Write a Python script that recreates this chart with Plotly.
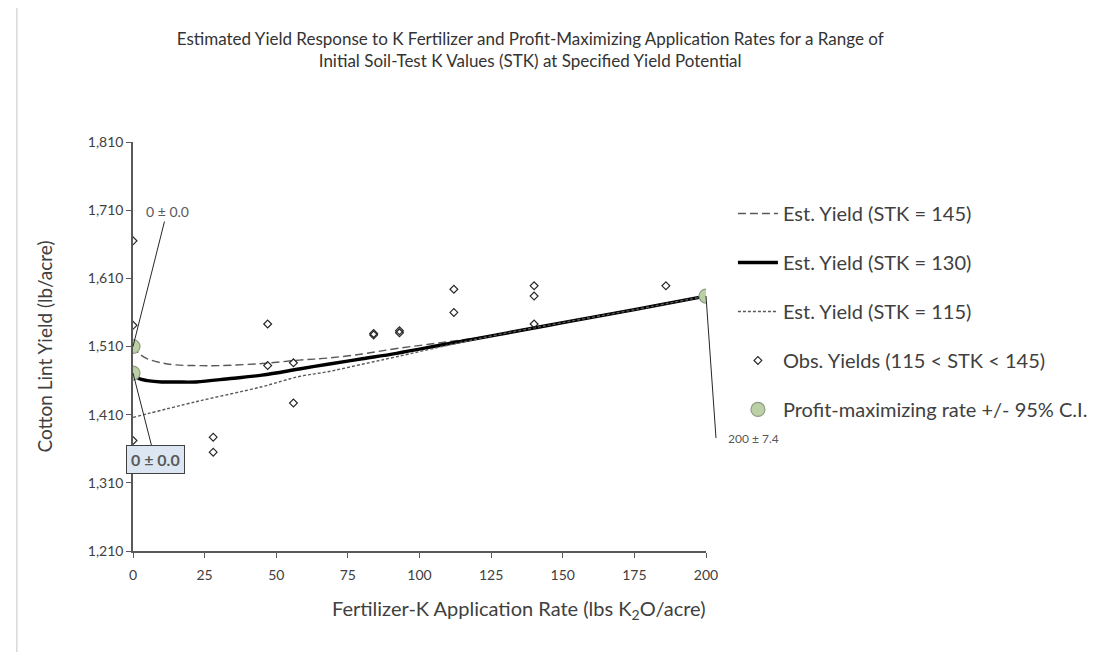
import plotly.graph_objects as go

# ---------------- data ----------------
curve_x_145 = [0, 2, 5, 10, 15, 22, 30, 45, 58, 68, 80, 92, 110, 127, 150, 175, 200]
curve_y_145 = [1510, 1500, 1492, 1486, 1483, 1482, 1482, 1485, 1490, 1493, 1499, 1507, 1517, 1527, 1545, 1564, 1584]

curve_x_130 = [0, 2, 5, 10, 15, 22, 34, 45, 58, 68, 80, 92, 110, 127, 150, 175, 200]
curve_y_130 = [1471, 1463, 1460, 1458, 1458, 1458, 1463, 1468, 1477, 1484, 1492, 1500, 1514, 1527, 1545, 1564, 1584]

curve_x_115 = [0, 22, 45, 58, 68, 80, 92, 110, 127, 150, 175, 200]
curve_y_115 = [1406, 1429, 1451, 1466, 1473, 1484, 1495, 1512, 1527, 1545, 1564, 1584]

obs_x = [0, 0, 0, 28, 28, 47, 47, 56, 56, 84, 84, 93, 93, 112, 112, 140, 140, 140, 186]
obs_y = [1665, 1541, 1372, 1377, 1355, 1543, 1482, 1486, 1427, 1527, 1529, 1530, 1533, 1594, 1560, 1599, 1584, 1543, 1599]

opt_x = [0, 0, 200]
opt_y = [1510, 1471, 1584]
opt_labels = ["0 ± 0.0", "0 ± 0.0", "200 ± 7.4"]

x_ticks = [0, 25, 50, 75, 100, 125, 150, 175, 200]
y_ticks = [1210, 1310, 1410, 1510, 1610, 1710, 1810]

FONT = "Lato, 'Open Sans', sans-serif"
TXT = "#404040"

fig = go.Figure()
fig.add_trace(go.Scatter(x=curve_x_145, y=curve_y_145, mode="lines", line_shape="spline",
                         line=dict(color="#595959", width=1.4, dash="8px,4px"),
                         name="Est. Yield (STK = 145)", legendgroup="a"))
fig.add_trace(go.Scatter(x=curve_x_130, y=curve_y_130, mode="lines", line_shape="spline",
                         line=dict(color="#000000", width=3.4),
                         name="Est. Yield (STK = 130)", legendgroup="b"))
fig.add_trace(go.Scatter(x=curve_x_115, y=curve_y_115, mode="lines", line_shape="spline",
                         line=dict(color="#595959", width=1.4, dash="3px,2px"),
                         name="Est. Yield (STK = 115)", legendgroup="c"))
fig.add_trace(go.Scatter(x=obs_x, y=obs_y, mode="markers",
                         marker=dict(symbol="diamond-open", size=6, color="#262626",
                                     line=dict(width=1.2, color="#262626")),
                         name="Obs. Yields (115 < STK < 145)", legendgroup="d"))
fig.add_trace(go.Scatter(x=opt_x, y=opt_y, mode="markers",
                         marker=dict(symbol="circle", size=14, color="#bcd0a5",
                                     line=dict(width=1.2, color="#8c9c84")),
                         name="Profit-maximizing rate +/- 95% C.I.", legendgroup="e"))

# annotations for profit-maximizing rates
fig.add_annotation(x=opt_x[0], y=opt_y[0], text=opt_labels[0], showarrow=True,
                   ax=34, ay=-135, arrowhead=0, arrowwidth=1, arrowcolor="#262626",
                   font=dict(family=FONT, size=14, color="#595959"))
fig.add_annotation(x=opt_x[1], y=opt_y[1], text="<b>" + opt_labels[1] + "</b>", showarrow=True,
                   ax=22, ay=86, arrowhead=0, arrowwidth=1, arrowcolor="#262626",
                   bgcolor="#dce6f2", bordercolor="#404040", borderwidth=1, borderpad=4,
                   font=dict(family=FONT, size=16, color="#595959"))
fig.add_annotation(x=opt_x[2], y=opt_y[2], text=opt_labels[2], showarrow=True,
                   ax=10, ay=142, arrowhead=0, arrowwidth=1, arrowcolor="#262626",
                   xanchor="left", borderpad=11,
                   font=dict(family=FONT, size=12, color="#595959"))
fig.add_shape(type="line", xref="x", yref="y", xsizemode="pixel", ysizemode="pixel",
              xanchor=opt_x[2], yanchor=opt_y[2], x0=10, x1=18, y0=-142, y1=-142,
              line=dict(color="#262626", width=1))

# x-axis title (offset to the right as in the original)
fig.add_annotation(xref="paper", yref="paper", x=0.674, y=-0.144, xanchor="center", yanchor="middle",
                   text="Fertilizer-K Application Rate (lbs K<sub>2</sub>O/acre)", showarrow=False,
                   font=dict(family=FONT, size=20, color=TXT))

# outer light border of the chart area
fig.add_shape(type="rect", xref="paper", yref="paper", x0=-0.2028, x1=1.70, y0=-0.30, y1=1.3325,
              line=dict(color="#d9d9d9", width=1.5), fillcolor="rgba(0,0,0,0)", layer="below")

fig.update_layout(
    width=1097, height=652,
    margin=dict(l=125, r=395, t=134, b=109),
    paper_bgcolor="white", plot_bgcolor="white",
    font=dict(family=FONT, size=14, color=TXT),
    title=dict(text="Estimated Yield Response to K Fertilizer and Profit-Maximizing Application Rates for a Range of<br>"
                    "Initial Soil-Test K Values (STK) at Specified Yield Potential",
               x=0.476, xanchor="center", y=0.9433, yanchor="middle",
               font=dict(family=FONT, size=17, color="#333333")),
    showlegend=True,
    legend=dict(x=1.047, xanchor="left", y=0.873, yanchor="top",
                font=dict(family=FONT, size=20, color=TXT),
                tracegroupgap=20, traceorder="grouped", itemwidth=40,
                bgcolor="rgba(0,0,0,0)"),
    xaxis=dict(range=[0, 200], tickvals=x_ticks, ticks="outside", ticklen=5, tickcolor="#595959",
               showline=True, linecolor="#595959", linewidth=1.5, showgrid=False, zeroline=False,
               ticklabelstandoff=5, tickfont=dict(size=14, color=TXT)),
    yaxis=dict(range=[1210, 1810], tickvals=y_ticks, tickformat=",", ticks="outside", ticklen=5,
               tickcolor="#595959", showline=True, linecolor="#595959", linewidth=1.5,
               showgrid=False, zeroline=False, tickfont=dict(size=14, color=TXT),
               title=dict(text="Cotton Lint Yield (lb/acre)", font=dict(size=19, color=TXT), standoff=30)),
)

fig.write_html("out.html")
